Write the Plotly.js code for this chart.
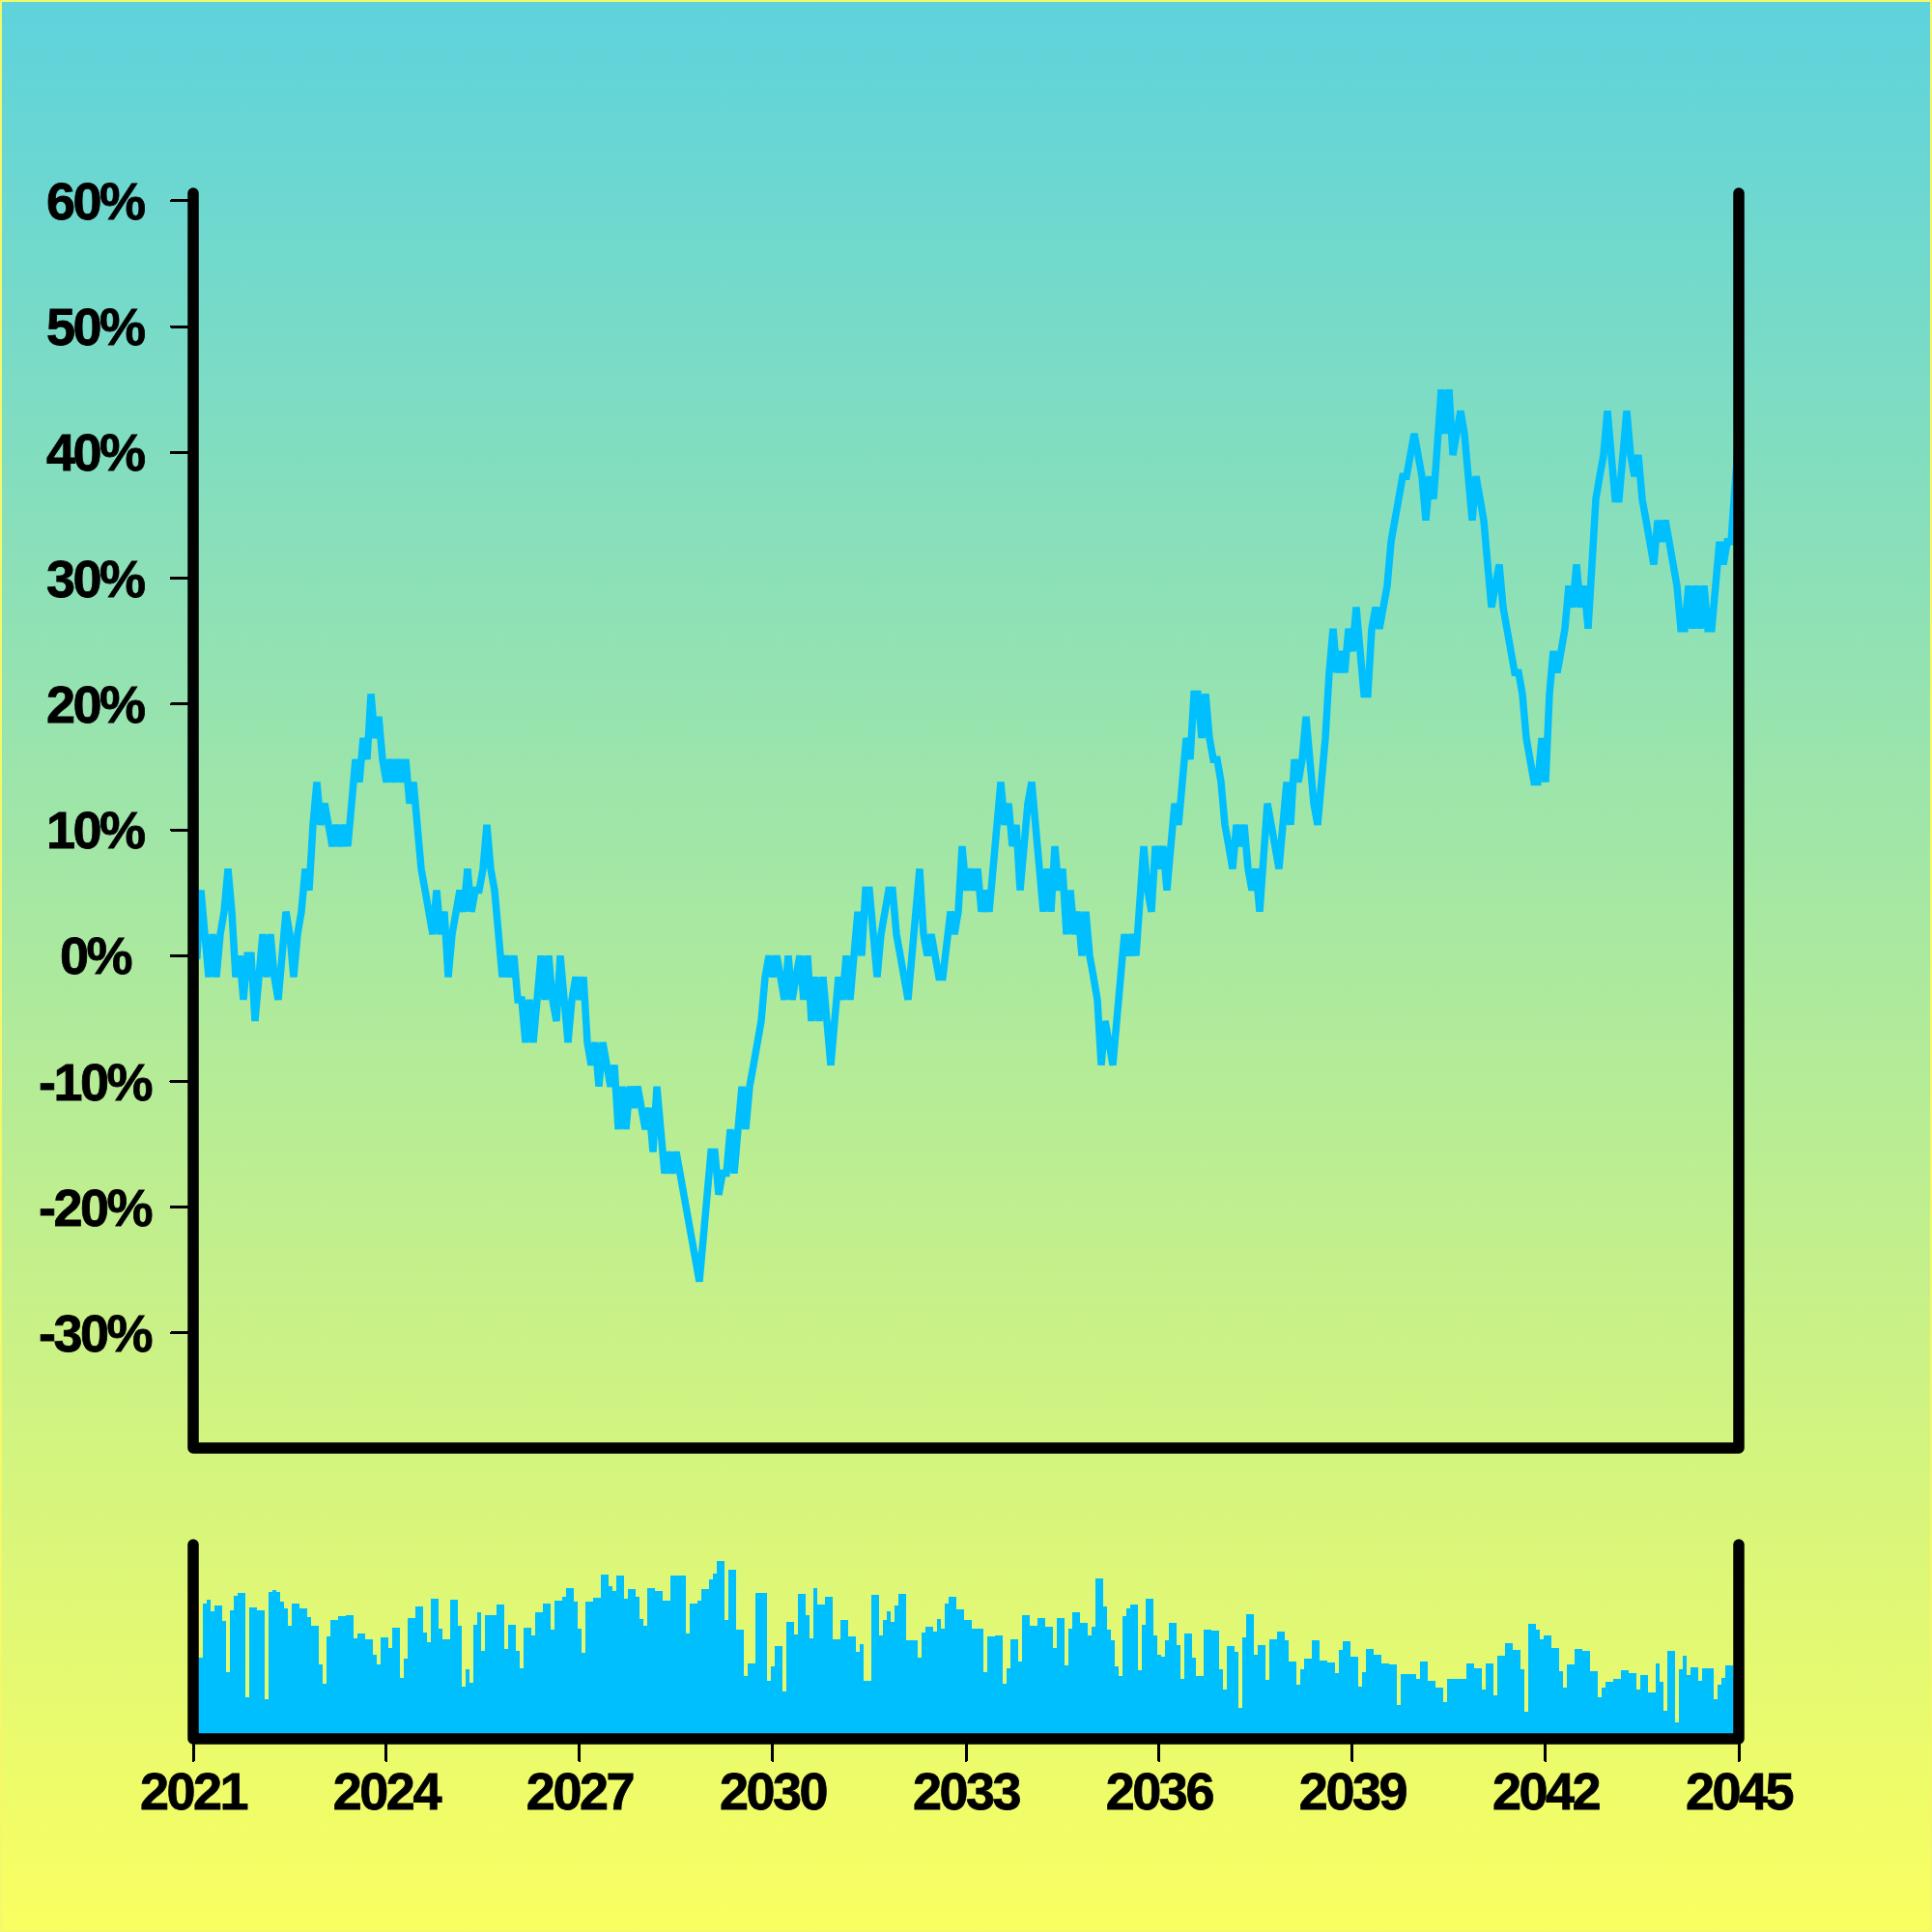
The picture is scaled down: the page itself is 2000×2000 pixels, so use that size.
<!DOCTYPE html>
<html>
<head>
<meta charset="utf-8">
<script src="https://cdn.plot.ly/plotly-3.0.1.min.js"></script>
<style>
  html, body { margin: 0; padding: 0; }
  #chart {
    width: 2000px; height: 2000px;
    background: linear-gradient(to bottom, #5dd3dd 0%, #faff60 100%);
    box-shadow: inset 0 0 0 2px #f4f86a;
  }
  .shapelayer path { stroke-linecap: round; stroke-linejoin: round; }
  path.ytick, path.x2tick, .ticks { stroke-linecap: round; }
  .x2tick text, .annotation-text { letter-spacing: -2.5px; stroke: #000; stroke-width: 0.8px; }
</style>
</head>
<body>
<div id="chart"></div>
<script>
// ---- data ----
const startDate = Date.UTC(2021, 0, 1);
const endDate = Date.UTC(2045, 0, 1);

// cumulative return, %
const returnPct = [
  0, 0, 5.2, 1.7, -1.7, 1.7, -1.7, 1.7, 3.5, 6.9, 3.5, -1.7, 0, -3.5, 0, 0, -5.2, -1.7, 1.7, -1.7,
  1.7, -1.7, -3.5, 0, 3.5, 1.7, -1.7, 1.7, 3.5, 6.9, 5.2, 10.4, 13.8, 10.4, 12.1, 10.4, 8.7, 10.4, 8.7, 10.4,
  8.7, 12.1, 15.6, 13.8, 17.3, 15.6, 20.8, 17.3, 19.0, 15.6, 13.8, 15.6, 13.8, 15.6, 13.8, 15.6, 12.1, 13.8, 10.4, 6.9,
  5.2, 3.5, 1.7, 5.2, 1.7, 3.5, -1.7, 1.7, 3.5, 5.2, 3.5, 6.9, 3.5, 5.2, 5.2, 6.9, 10.4, 6.9, 5.2, 1.7,
  -1.7, 0, -1.7, 0, -3.5, -3.5, -6.9, -3.5, -6.9, -3.5, 0, -3.5, 0, -3.5, -5.2, 0, -3.5, -6.9, -3.5, -1.7,
  -3.5, -1.7, -6.9, -8.7, -6.9, -10.4, -6.9, -8.7, -10.4, -8.7, -13.8, -10.4, -13.8, -10.4, -12.1, -10.4, -12.1, -13.8, -12.1, -15.6,
  -10.4, -13.8, -17.3, -15.6, -17.3, -15.6, -17.3, -19.0, -20.8, -22.5, -24.2, -25.9, -22.5, -19.0, -15.6, -15.6, -19.0, -17.3, -17.3, -13.8,
  -17.3, -13.8, -10.4, -13.8, -10.4, -8.7, -6.9, -5.2, -1.7, 0, -1.7, 0, -1.7, -3.5, 0, -3.5, -1.7, 0, -3.5, 0,
  -5.2, -1.7, -5.2, -1.7, -5.2, -8.7, -5.2, -1.7, -3.5, 0, -3.5, 0, 3.5, 0, 5.2, 5.2, 1.7, -1.7, 1.7, 3.5,
  5.2, 5.2, 1.7, 0, -1.7, -3.5, 0, 3.5, 6.9, 1.7, 0, 1.7, 0, -1.7, -1.7, 1.7, 3.5, 1.7, 3.5, 8.7,
  5.2, 6.9, 5.2, 6.9, 3.5, 5.2, 3.5, 6.9, 10.4, 13.8, 10.4, 12.1, 8.7, 10.4, 5.2, 8.7, 12.1, 13.8, 10.4, 6.9,
  3.5, 6.9, 3.5, 8.7, 5.2, 6.9, 1.7, 5.2, 1.7, 3.5, 0, 3.5, 0, -1.7, -3.5, -8.7, -5.2, -6.9, -8.7, -5.2,
  -1.7, 1.7, 0, 1.7, 0, 5.2, 8.7, 5.2, 3.5, 8.7, 6.9, 8.7, 5.2, 8.7, 12.1, 10.4, 13.8, 17.3, 15.6, 20.8,
  20.8, 17.3, 20.8, 17.3, 15.6, 15.6, 13.8, 10.4, 8.7, 6.9, 10.4, 8.7, 10.4, 6.9, 5.2, 6.9, 3.5, 8.7, 12.1, 10.4,
  8.7, 6.9, 10.4, 13.8, 10.4, 15.6, 13.8, 15.6, 19.0, 15.6, 12.1, 10.4, 13.8, 17.3, 22.5, 26.0, 22.5, 24.2, 22.5, 26.0,
  24.2, 27.7, 24.2, 20.8, 20.8, 26.0, 27.7, 26.0, 27.7, 29.4, 32.9, 34.6, 36.3, 38.1, 38.1, 39.8, 41.5, 39.8, 38.1, 34.6,
  38.1, 36.3, 41.5, 45.0, 41.5, 45.0, 39.8, 41.5, 43.3, 41.5, 38.1, 34.6, 38.1, 36.3, 34.6, 31.1, 27.7, 29.4, 31.1, 27.7,
  26.0, 24.2, 22.5, 22.5, 20.8, 17.3, 15.6, 13.8, 13.8, 17.3, 13.8, 20.8, 24.2, 22.5, 24.2, 26.0, 29.4, 27.7, 31.1, 27.7,
  29.4, 26.0, 31.1, 36.3, 38.1, 39.8, 43.3, 39.8, 36.3, 36.3, 39.8, 43.3, 39.8, 38.1, 39.8, 36.3, 34.6, 32.9, 31.1, 34.6,
  32.9, 34.6, 32.9, 31.1, 29.4, 26.0, 26.0, 29.4, 26.0, 29.4, 26.0, 29.4, 26.0, 26.0, 29.4, 32.9, 31.1, 32.9, 32.9, 38.1, 41.5
];

// volume (arbitrary units)
const volume = [
  84, 84, 84, 140, 144, 132, 138, 138, 122, 69, 133, 148, 151, 151, 43, 136, 136, 133, 133, 41,
  152, 154, 152, 142, 135, 117, 140, 140, 135, 135, 126, 117, 117, 77, 57, 106, 123, 123, 127, 127,
  128, 128, 104, 109, 109, 103, 103, 87, 77, 105, 105, 94, 115, 115, 63, 83, 125, 125, 137, 137,
  110, 100, 145, 145, 114, 103, 103, 144, 144, 117, 54, 72, 58, 118, 131, 91, 128, 128, 128, 139,
  139, 93, 118, 118, 91, 73, 115, 115, 107, 131, 131, 140, 140, 113, 143, 143, 147, 156, 156, 142,
  114, 89, 142, 142, 146, 146, 170, 170, 158, 153, 169, 169, 145, 155, 155, 147, 124, 117, 156, 156,
  153, 153, 143, 143, 169, 169, 169, 169, 109, 140, 140, 143, 155, 155, 165, 171, 184, 184, 123, 175,
  175, 113, 113, 65, 78, 78, 151, 151, 151, 60, 75, 96, 96, 49, 121, 121, 108, 150, 150, 128,
  104, 156, 139, 139, 147, 147, 103, 103, 123, 123, 106, 106, 90, 98, 60, 60, 149, 149, 107, 123,
  132, 121, 138, 150, 150, 102, 102, 102, 84, 110, 116, 116, 111, 124, 114, 140, 147, 147, 134, 134,
  123, 123, 114, 114, 114, 69, 106, 106, 107, 107, 57, 73, 103, 103, 80, 128, 128, 117, 117, 125,
  125, 116, 116, 94, 125, 125, 76, 114, 131, 131, 120, 120, 107, 116, 166, 166, 137, 113, 102, 75,
  65, 127, 135, 139, 139, 71, 118, 145, 145, 107, 87, 85, 102, 120, 120, 97, 62, 109, 109, 84,
  65, 65, 113, 113, 112, 112, 72, 51, 96, 96, 90, 32, 105, 129, 129, 87, 97, 97, 61, 103,
  103, 111, 111, 102, 80, 80, 56, 72, 83, 83, 102, 102, 81, 81, 79, 79, 68, 92, 101, 101,
  85, 85, 54, 69, 93, 93, 87, 87, 78, 78, 77, 77, 35, 67, 67, 67, 67, 62, 80, 80,
  60, 60, 53, 53, 38, 62, 62, 62, 62, 62, 78, 78, 73, 73, 51, 78, 78, 45, 86, 86,
  99, 99, 92, 92, 72, 28, 119, 119, 113, 103, 107, 107, 94, 94, 70, 53, 77, 77, 93, 93,
  91, 91, 70, 70, 43, 53, 59, 59, 62, 62, 71, 71, 68, 68, 51, 66, 66, 48, 48, 78,
  59, 29, 91, 91, 17, 72, 86, 66, 74, 74, 60, 73, 73, 73, 41, 56, 63, 76, 76, 64, 64
];

const yTickVals = [-30, -20, -10, 0, 10, 20, 30, 40, 50, 60];
const yTickText = ['-30%', '-20%', '-10%', '0%', '10%', '20%', '30%', '40%', '50%', '60%'];
const xTickYears = [2021, 2024, 2027, 2030, 2033, 2036, 2039, 2042, 2045];
const xTickText = ['2021', '2024', '2027', '2030', '2033', '2036', '2039', '2042', '2045'];

// ---- evenly spaced observation dates ----
const n = returnPct.length;
const dates = returnPct.map((_, i) => startDate + i * (endDate - startDate) / (n - 1));
const xTickVals = xTickYears.map(y => Date.UTC(y, 0, 1));

const FONT = 'Liberation Sans, Arial, Helvetica, sans-serif';
const BLUE = '#00BFFF';

const mainBottom = 0.188125;
const volTop = 0.125625;

const traces = [
  {
    type: 'scatter', mode: 'lines', x: dates, y: returnPct,
    xaxis: 'x', yaxis: 'y',
    line: { color: BLUE, width: 7.5 },
    hoverinfo: 'skip'
  },
  {
    type: 'bar', x: dates, y: volume.slice(0, n),
    xaxis: 'x2', yaxis: 'y2',
    marker: { color: BLUE, line: { width: 0 } },
    hoverinfo: 'skip'
  }
];

const annotations = yTickVals.map((v, i) => ({
  xref: 'paper', yref: 'y', x: -0.063, y: v,
  text: yTickText[i], showarrow: false,
  xanchor: 'center', yanchor: 'middle',
  font: { family: FONT, size: 54, color: '#000', weight: 'bold' }
}));

const shapes = [
  { type: 'path', xref: 'paper', yref: 'paper',
    path: `M0,1 L0,${mainBottom} L1,${mainBottom} L1,1`,
    line: { color: '#000', width: 11.5 }, fillcolor: 'rgba(0,0,0,0)' },
  { type: 'path', xref: 'paper', yref: 'paper',
    path: `M0,${volTop} L0,0 L1,0 L1,${volTop}`,
    line: { color: '#000', width: 11.5 }, fillcolor: 'rgba(0,0,0,0)' }
];

const layout = {
  width: 2000, height: 2000,
  margin: { l: 200, r: 200, t: 200, b: 200, pad: 0 },
  paper_bgcolor: 'rgba(0,0,0,0)',
  plot_bgcolor: 'rgba(0,0,0,0)',
  showlegend: false,
  bargap: 0,
  xaxis: {
    type: 'date', domain: [0, 1], anchor: 'y',
    range: [startDate, endDate],
    showgrid: false, zeroline: false, showline: false,
    showticklabels: false, ticks: ''
  },
  yaxis: {
    domain: [mainBottom, 1], anchor: 'x',
    range: [-39.14, 60.61],
    showgrid: false, zeroline: false, showline: false,
    showticklabels: false,
    tickmode: 'array', tickvals: yTickVals,
    ticks: 'outside', ticklen: 22, tickwidth: 3, tickcolor: '#000'
  },
  xaxis2: {
    type: 'date', domain: [0, 1], anchor: 'y2',
    range: [startDate, endDate],
    showgrid: false, zeroline: false, showline: false,
    tickmode: 'array', tickvals: xTickVals, ticktext: xTickText,
    ticks: 'outside', ticklen: 22, tickwidth: 3, tickcolor: '#000',
    ticklabelstandoff: -15,
    tickfont: { family: FONT, size: 54, color: '#000', weight: 'bold' }
  },
  yaxis2: {
    domain: [0, volTop], anchor: 'x2',
    range: [0, 201],
    showgrid: false, zeroline: false, showline: false,
    showticklabels: false, ticks: ''
  },
  shapes: shapes,
  annotations: annotations
};

Plotly.newPlot('chart', traces, layout, { displayModeBar: false, staticPlot: true });
</script>
</body>
</html>
